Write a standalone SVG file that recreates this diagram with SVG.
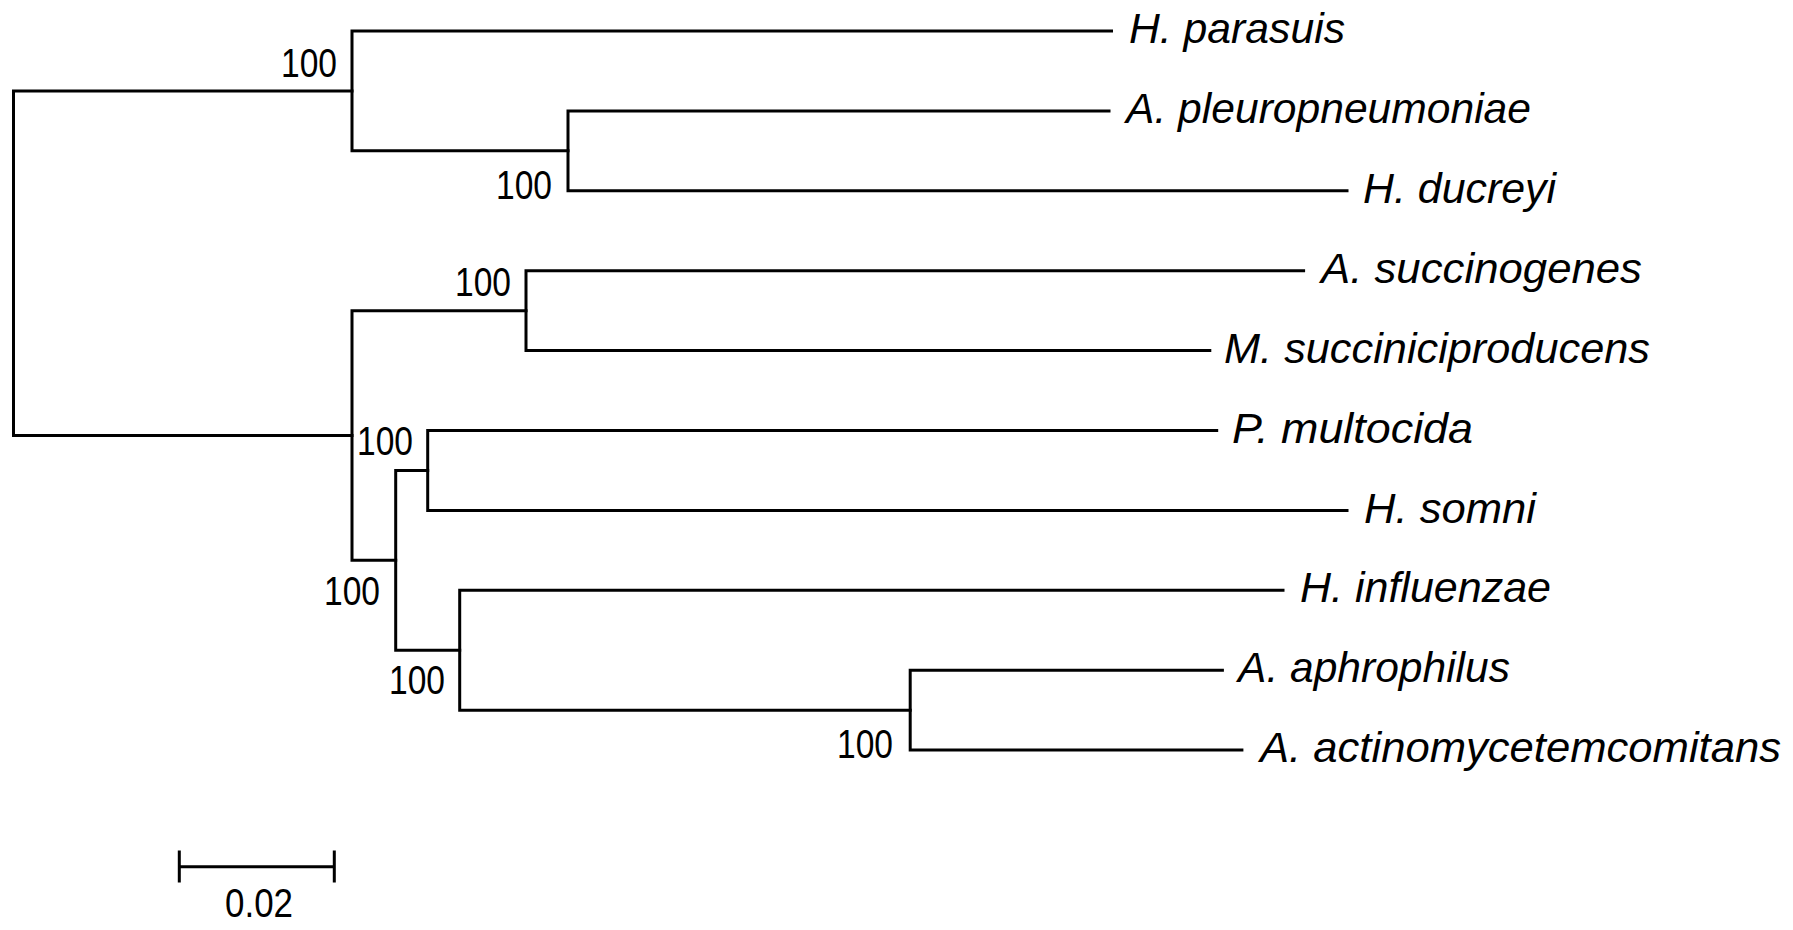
<svg xmlns="http://www.w3.org/2000/svg" width="1793" height="930" viewBox="0 0 1793 930">
<style>
.br{fill:none;stroke:#000;stroke-width:3;stroke-linecap:square;stroke-linejoin:miter}
.tx{font-family:"Liberation Sans",Arial,sans-serif;font-style:italic;font-size:42.5px;fill:#000}
.bs{font-family:"Liberation Sans",Arial,sans-serif;font-size:40px;fill:#000}
</style>
<rect x="0" y="0" width="1793" height="930" fill="#fff"/>
<g id="connectors">
<path class="br" d="M352 90.9 H13.5 V435.5 H352"/>
<path class="br" d="M1111.5 31 H352 V150.85 H568"/>
<path class="br" d="M1109 110.9 H568 V190.8 H1347"/>
<path class="br" d="M526 310.65 H352 V560.3 H395.7"/>
<path class="br" d="M1303.6 270.7 H526 V350.6 H1209.8"/>
<path class="br" d="M427.7 470.45 H395.7 V650.2 H459.7"/>
<path class="br" d="M1216.7 430.5 H427.7 V510.4 H1347"/>
<path class="br" d="M1283 590.3 H459.7 V710.15 H910.2"/>
<path class="br" d="M1222.4 670.2 H910.2 V750.1 H1241.9"/>
</g>
<g id="leaf-h-parasuis"><text class="tx" x="1129" y="43" textLength="216" lengthAdjust="spacingAndGlyphs">H. parasuis</text></g>
<g id="leaf-a-pleuropneumoniae"><text class="tx" x="1126" y="123" textLength="405" lengthAdjust="spacingAndGlyphs">A. pleuropneumoniae</text></g>
<g id="leaf-h-ducreyi"><text class="tx" x="1363" y="203" textLength="193" lengthAdjust="spacingAndGlyphs">H. ducreyi</text></g>
<g id="leaf-a-succinogenes"><text class="tx" x="1321" y="283" textLength="321" lengthAdjust="spacingAndGlyphs">A. succinogenes</text></g>
<g id="leaf-m-succiniciproducens"><text class="tx" x="1224" y="363" textLength="426" lengthAdjust="spacingAndGlyphs">M. succiniciproducens</text></g>
<g id="leaf-p-multocida"><text class="tx" x="1232" y="443" textLength="241" lengthAdjust="spacingAndGlyphs">P. multocida</text></g>
<g id="leaf-h-somni"><text class="tx" x="1364" y="523" textLength="172" lengthAdjust="spacingAndGlyphs">H. somni</text></g>
<g id="leaf-h-influenzae"><text class="tx" x="1300" y="602" textLength="251" lengthAdjust="spacingAndGlyphs">H. influenzae</text></g>
<g id="leaf-a-aphrophilus"><text class="tx" x="1238" y="682" textLength="272" lengthAdjust="spacingAndGlyphs">A. aphrophilus</text></g>
<g id="leaf-a-actinomycetemcomitans"><text class="tx" x="1260" y="762" textLength="521" lengthAdjust="spacingAndGlyphs">A. actinomycetemcomitans</text></g>
<g id="bootstrap-1"><text class="bs" x="281" y="77" textLength="56" lengthAdjust="spacingAndGlyphs">100</text></g>
<g id="bootstrap-2"><text class="bs" x="496" y="199" textLength="56" lengthAdjust="spacingAndGlyphs">100</text></g>
<g id="bootstrap-3"><text class="bs" x="455" y="296" textLength="56" lengthAdjust="spacingAndGlyphs">100</text></g>
<g id="bootstrap-4"><text class="bs" x="357" y="455" textLength="56" lengthAdjust="spacingAndGlyphs">100</text></g>
<g id="bootstrap-5"><text class="bs" x="324" y="605" textLength="56" lengthAdjust="spacingAndGlyphs">100</text></g>
<g id="bootstrap-6"><text class="bs" x="389" y="694" textLength="56" lengthAdjust="spacingAndGlyphs">100</text></g>
<g id="bootstrap-7"><text class="bs" x="837" y="758" textLength="56" lengthAdjust="spacingAndGlyphs">100</text></g>
<g id="scale-bar">
<path class="br" d="M179.3 866.7 H334.3 M179.3 852 V881 M334.3 852 V881" stroke-linecap="butt"/>
<text class="bs" x="225" y="917" textLength="68" lengthAdjust="spacingAndGlyphs">0.02</text>
</g>
</svg>
